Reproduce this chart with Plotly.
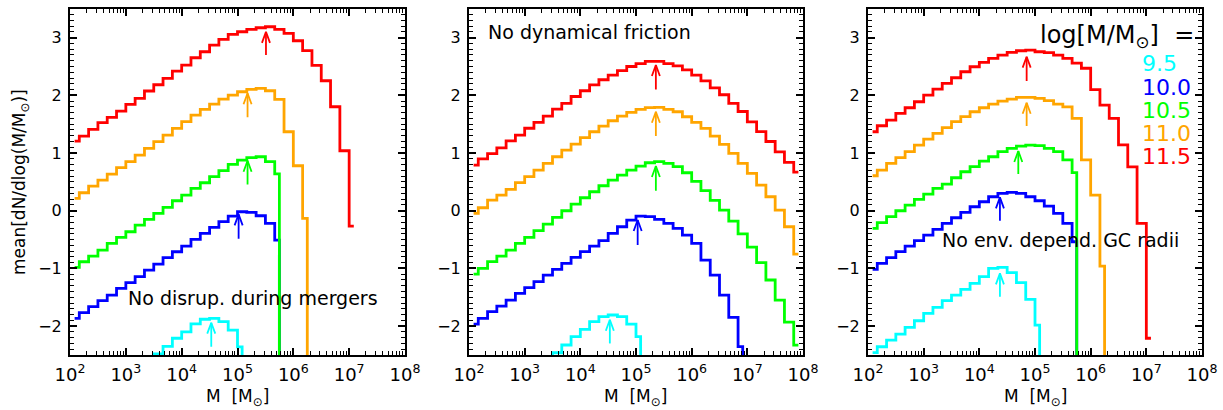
import math
import plotly.graph_objects as go

# ---------------- data ----------------
# log10(M/Msun) bin centres of the GC mass function histograms (bin width 1/6 dex)
LOG_M_BINS = [2.083, 2.250, 2.417, 2.583, 2.750, 2.917, 3.083, 3.250, 3.417, 3.583,
              3.750, 3.917, 4.083, 4.250, 4.417, 4.583, 4.750, 4.917, 5.083, 5.250,
              5.417, 5.583, 5.750, 5.917, 6.083, 6.250, 6.417, 6.583, 6.750, 6.917,
              7.083, 7.250, 7.417, 7.583, 7.750, 7.917]

HALO_LABELS = ["9.5", "10.0", "10.5", "11.0", "11.5"]
HALO_COLORS = ["#00FFFF", "#0000FF", "#00FF00", "#FFA500", "#FF0000"]

# Panel 1: No disrup. during mergers  (first bin index, values, drops to floor at end)
p1_cyan_start = 8
p1_cyan = [-2.62, -2.48, -2.35, -2.21, -2.10, -1.96, -1.88, -1.865, -1.92, -2.07, -2.36]
p1_blue_start = 0
p1_blue = [-1.865, -1.767, -1.663, -1.559, -1.461, -1.345, -1.247, -1.143, -1.028, -0.924,
           -0.814, -0.711, -0.612, -0.496, -0.392, -0.288, -0.190, -0.092, -0.017, -0.028,
           -0.087, -0.219, -0.508]
p1_green_start = 0
p1_green = [-0.981, -0.884, -0.785, -0.681, -0.565, -0.461, -0.364, -0.248, -0.149, -0.045,
            0.058, 0.173, 0.272, 0.388, 0.485, 0.590, 0.694, 0.804, 0.879, 0.919,
            0.936, 0.850, 0.640]
p1_orange_start = 0
p1_orange = [0.215, 0.312, 0.428, 0.532, 0.636, 0.746, 0.850, 0.965, 1.081, 1.197,
             1.312, 1.428, 1.543, 1.659, 1.757, 1.849, 1.936, 2.005, 2.062, 2.103,
             2.121, 2.080, 1.931, 1.369, 0.780, -0.132]
p1_red_start = 0
p1_red = [1.208, 1.295, 1.410, 1.526, 1.618, 1.728, 1.844, 1.948, 2.075, 2.184,
          2.294, 2.421, 2.525, 2.652, 2.756, 2.872, 2.970, 3.057, 3.102, 3.144,
          3.172, 3.189, 3.144, 3.074, 2.946, 2.774, 2.520, 2.253, 1.802, 1.040, -0.265]
p1_drops = [True, True, True, True, False]

# Panel 2: No dynamical friction
p2_cyan_start = 8
p2_cyan = [-2.62, -2.461, -2.327, -2.183, -2.056, -1.923, -1.836, -1.807, -1.836, -1.964, -2.183]
p2_blue_start = 0
p2_blue = [-1.964, -1.865, -1.750, -1.652, -1.548, -1.432, -1.334, -1.230, -1.114, -1.016,
           -0.912, -0.808, -0.710, -0.612, -0.519, -0.392, -0.277, -0.161, -0.092, -0.103,
           -0.150, -0.219, -0.306, -0.421, -0.566, -0.854, -1.114, -1.461, -1.848, -2.356]
p2_green_start = 0
p2_green = [-1.097, -0.999, -0.883, -0.785, -0.681, -0.566, -0.462, -0.346, -0.231, -0.115,
            0.000, 0.116, 0.225, 0.329, 0.433, 0.532, 0.619, 0.705, 0.775, 0.832,
            0.850, 0.821, 0.763, 0.659, 0.510, 0.350, 0.180, 0.010, -0.180, -0.400,
            -0.630, -0.900, -1.200, -1.550, -1.930, -2.330]
p2_orange_start = 0
p2_orange = [-0.045, 0.052, 0.185, 0.272, 0.370, 0.486, 0.590, 0.705, 0.821, 0.936,
             1.052, 1.156, 1.266, 1.369, 1.468, 1.560, 1.641, 1.705, 1.757, 1.786,
             1.792, 1.757, 1.716, 1.629, 1.532, 1.428, 1.295, 1.150, 0.994, 0.821,
             0.648, 0.445, 0.243, 0.012, -0.277, -0.750]
p2_red_start = 0
p2_red = [0.79, 0.90, 0.99, 1.09, 1.21, 1.31, 1.43, 1.53, 1.64, 1.76,
          1.86, 1.98, 2.08, 2.18, 2.27, 2.35, 2.43, 2.50, 2.55, 2.59,
          2.59, 2.55, 2.51, 2.44, 2.35, 2.25, 2.13, 2.01, 1.86, 1.72,
          1.54, 1.37, 1.20, 1.02, 0.84, 0.67]
p2_drops = [True, True, False, False, False]

# Panel 3: No env. depend. GC radii
p3_cyan_start = 0
p3_cyan = [-2.46, -2.357, -2.241, -2.137, -2.021, -1.906, -1.779, -1.675, -1.559, -1.461,
           -1.363, -1.259, -1.143, -1.000, -0.980, -1.074, -1.247, -1.536, -1.981]
p3_blue_start = 0
p3_blue = [-1.016, -0.912, -0.814, -0.710, -0.612, -0.519, -0.421, -0.323, -0.219, -0.121,
           -0.029, 0.069, 0.156, 0.243, 0.301, 0.318, 0.301, 0.243, 0.173, 0.081,
           -0.045, -0.219, -0.537]
p3_green_start = 0
p3_green = [-0.305, -0.207, -0.103, 0.000, 0.099, 0.197, 0.289, 0.387, 0.463, 0.572,
            0.676, 0.763, 0.861, 0.936, 1.023, 1.081, 1.121, 1.139, 1.127, 1.081,
            1.023, 0.880, 0.660]
p3_orange_start = 0
p3_orange = [0.607, 0.705, 0.821, 0.919, 1.023, 1.139, 1.243, 1.341, 1.439, 1.543,
             1.630, 1.716, 1.785, 1.849, 1.901, 1.936, 1.965, 1.965, 1.947, 1.907,
             1.849, 1.800, 1.600, 0.880, 0.270, -0.960]
p3_red_start = 0
p3_red = [1.369, 1.473, 1.571, 1.687, 1.785, 1.889, 2.005, 2.109, 2.207, 2.305,
          2.409, 2.496, 2.571, 2.640, 2.698, 2.744, 2.773, 2.785, 2.756, 2.739,
          2.698, 2.640, 2.560, 2.470, 2.100, 1.830, 1.600, 1.140, 0.760, -0.220, -2.210]
p3_drops = [True, True, True, True, False]

# peak-mass arrows: log10 M, arrow tip, arrow tail  (order cyan, blue, green, orange, red)
p1_arrow_logm = [4.53, 5.02, 5.18, 5.18, 5.51]
p1_arrow_tip = [-1.94, -0.063, 0.867, 2.035, 3.10]
p1_arrow_tail = [-2.357, -0.485, 0.457, 1.62, 2.70]
p2_arrow_logm = [4.53, 5.03, 5.357, 5.357, 5.357]
p2_arrow_tip = [-1.89, -0.16, 0.775, 1.716, 2.525]
p2_arrow_tail = [-2.30, -0.594, 0.347, 1.295, 2.10]
p3_arrow_logm = [4.37, 4.37, 4.70, 4.85, 4.85]
p3_arrow_tip = [-1.085, 0.232, 1.035, 1.87, 2.67]
p3_arrow_tail = [-1.49, -0.173, 0.636, 1.47, 2.25]

PANEL_NOTES = ["No disrup. during mergers", "No dynamical friction", "No env. depend. GC radii"]

X_TICK_EXPONENTS = [2, 3, 4, 5, 6, 7, 8]
Y_TICKS = [-2, -1, 0, 1, 2, 3]

# ---------------- styling ----------------
FONT = "DejaVu Sans"
W, H = 1223, 410
PANEL_PX = [(70, 405), (469, 803), (868, 1202)]
Y_TOP_PX, Y_BOT_PX = 8.8, 355
X_RANGE = [2, 8]
Y_RANGE = [-2.5, 3.5]
FLOOR = -9.0
HEAD_DX = 0.072   # arrow head half width (log units)
HEAD_DY = 0.19    # arrow head length (y units)
LINE_W = 2.8

panels = [
    dict(starts=[p1_cyan_start, p1_blue_start, p1_green_start, p1_orange_start, p1_red_start],
         series=[p1_cyan, p1_blue, p1_green, p1_orange, p1_red], drops=p1_drops,
         alog=p1_arrow_logm, atip=p1_arrow_tip, atail=p1_arrow_tail),
    dict(starts=[p2_cyan_start, p2_blue_start, p2_green_start, p2_orange_start, p2_red_start],
         series=[p2_cyan, p2_blue, p2_green, p2_orange, p2_red], drops=p2_drops,
         alog=p2_arrow_logm, atip=p2_arrow_tip, atail=p2_arrow_tail),
    dict(starts=[p3_cyan_start, p3_blue_start, p3_green_start, p3_orange_start, p3_red_start],
         series=[p3_cyan, p3_blue, p3_green, p3_orange, p3_red], drops=p3_drops,
         alog=p3_arrow_logm, atip=p3_arrow_tip, atail=p3_arrow_tail),
]

fig = go.Figure()

for i, pan in enumerate(panels):
    xa = "x" if i == 0 else f"x{i+1}"
    ya = "y" if i == 0 else f"y{i+1}"
    for j in range(5):
        s = pan["starts"][j]
        vals = list(pan["series"][j])
        xs = LOG_M_BINS[s:s + len(vals)]
        if pan["drops"][j]:
            xs = xs + [xs[-1]]
            vals = vals + [FLOOR]
        fig.add_trace(go.Scatter(
            x=xs, y=vals, mode="lines", xaxis=xa, yaxis=ya,
            line=dict(color=HALO_COLORS[j], width=LINE_W, shape="hvh", simplify=False),
            showlegend=False, hoverinfo="skip"))
    for j in range(5):
        ax_ = pan["alog"][j]
        tip = pan["atip"][j]
        tail = pan["atail"][j]
        xs = [ax_, ax_, None, ax_ - HEAD_DX, ax_, ax_ + HEAD_DX]
        ys = [tail, tip, None, tip - HEAD_DY, tip, tip - HEAD_DY]
        fig.add_trace(go.Scatter(
            x=xs, y=ys, mode="lines", xaxis=xa, yaxis=ya,
            line=dict(color=HALO_COLORS[j], width=1.8),
            showlegend=False, hoverinfo="skip"))

minor_x = []
for e in X_TICK_EXPONENTS[:-1]:
    for k in range(2, 10):
        minor_x.append(e + math.log10(k))

layout = dict(
    width=W, height=H,
    margin=dict(l=0, r=0, t=0, b=0, pad=0, autoexpand=False),
    paper_bgcolor="white", plot_bgcolor="white",
    font=dict(family=FONT, color="black", size=16),
    showlegend=False,
)

y0 = 1 - Y_BOT_PX / H
y1 = 1 - Y_TOP_PX / H
for i, (l, r) in enumerate(PANEL_PX):
    xk = "xaxis" if i == 0 else f"xaxis{i+1}"
    yk = "yaxis" if i == 0 else f"yaxis{i+1}"
    ya = "y" if i == 0 else f"y{i+1}"
    xa = "x" if i == 0 else f"x{i+1}"
    layout[xk] = dict(
        domain=[l / W, r / W], anchor=ya, range=X_RANGE, automargin=False,
        showgrid=False, zeroline=False,
        showline=True, linecolor="black", linewidth=2, mirror="ticks",
        ticks="inside", ticklen=7, tickwidth=1.5, tickcolor="black",
        tickvals=X_TICK_EXPONENTS,
        ticktext=[f"10<sup>{e}</sup>" for e in X_TICK_EXPONENTS],
        tickfont=dict(family=FONT, size=18, color="black"),
        ticklabelstandoff=2,
        minor=dict(tickvals=minor_x, ticks="inside", ticklen=4, tickwidth=1.2, tickcolor="black"),
    )
    layout[yk] = dict(
        domain=[y0, y1], anchor=xa, range=Y_RANGE, automargin=False,
        showgrid=False, zeroline=False,
        showline=True, linecolor="black", linewidth=2, mirror="ticks",
        ticks="inside", ticklen=7, tickwidth=1.5, tickcolor="black",
        tickvals=Y_TICKS,
        tickfont=dict(family=FONT, size=16, color="black"),
        ticklabelstandoff=3,
        minor=dict(dtick=0.1, tick0=0, ticks="inside", ticklen=4, tickwidth=1.2, tickcolor="black"),
    )

fig.update_layout(**layout)

ann = []
# axis titles
for i, (l, r) in enumerate(PANEL_PX):
    ann.append(dict(text="M  [M<sub>⊙</sub>]", x=(l + r) / 2 / W, y=1 - 397 / H,
                    xref="paper", yref="paper", showarrow=False,
                    font=dict(family=FONT, size=17, color="black"),
                    xanchor="center", yanchor="middle"))
ann.append(dict(text="mean[dN/dlog(M/M<sub>⊙</sub>)]", x=21 / W, y=1 - 182 / H,
                xref="paper", yref="paper", showarrow=False, textangle=-90,
                font=dict(family=FONT, size=17, color="black"),
                xanchor="center", yanchor="middle"))
# panel notes
note_pos = [(126, 298), (486, 32), (940, 240)]
for note, (px, py) in zip(PANEL_NOTES, note_pos):
    ann.append(dict(text=note, x=px / W, y=1 - py / H, xref="paper", yref="paper",
                    showarrow=False, font=dict(family=FONT, size=19, color="black"),
                    xanchor="left", yanchor="middle"))
# legend text
ann.append(dict(text="log[M/M<sub>⊙</sub>]  =", x=1196 / W, y=1 - 37 / H,
                xref="paper", yref="paper", showarrow=False,
                font=dict(family=FONT, size=24, color="black"),
                xanchor="right", yanchor="middle"))
leg_y = [63.3, 87.3, 110.0, 133.3, 156.0]
for lab, col, py in zip(HALO_LABELS, HALO_COLORS, leg_y):
    ann.append(dict(text=lab, x=1141 / W, y=1 - py / H, xref="paper", yref="paper",
                    showarrow=False, font=dict(family=FONT, size=22, color=col),
                    xanchor="left", yanchor="middle", borderpad=0))

fig.update_layout(annotations=ann)
fig.write_html("out.html")
